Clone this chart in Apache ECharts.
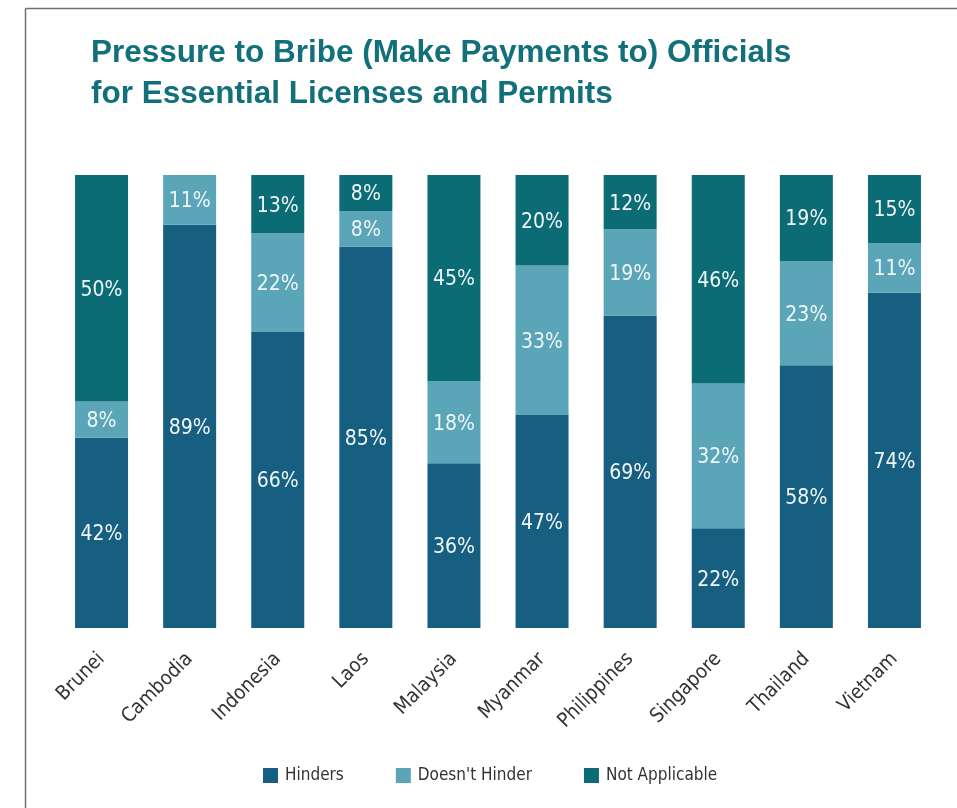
<!DOCTYPE html>
<html>
<head>
<meta charset="utf-8">
<script src="https://cdn.jsdelivr.net/npm/echarts@6/dist/echarts.min.js"></script>
<style>
html,body{margin:0;padding:0;background:#fff;}
#chart{width:957px;height:808px;}
</style>
</head>
<body>
<div id="chart"></div>
<script>
const categories = ['Brunei','Cambodia','Indonesia','Laos','Malaysia','Myanmar','Philippines','Singapore','Thailand','Vietnam'];
const hinders = [42, 89, 66, 85, 36, 47, 69, 22, 58, 74];
const doesntHinder = [8, 11, 22, 8, 18, 33, 19, 32, 23, 11];
const notApplicable = [50, 0, 13, 8, 45, 20, 12, 46, 19, 15];
const seriesNames = ['Hinders', "Doesn't Hinder", 'Not Applicable'];
const colors = ['#175f80', '#5aa5b8', '#0b6c75'];

const raw = [hinders, doesntHinder, notApplicable];
const totals = categories.map((c, i) => hinders[i] + doesntHinder[i] + notApplicable[i]);
const FONT = '"DejaVu Sans Condensed", "Liberation Sans Narrow", "Liberation Sans", Arial, sans-serif';

const chart = echarts.init(document.getElementById('chart'));
chart.setOption({
  animation: false,
  backgroundColor: '#fff',
  title: {
    text: 'Pressure to Bribe (Make Payments to) Officials\nfor Essential Licenses and Permits',
    left: 86, top: 28,
    textStyle: { color: '#12707a', fontSize: 31.5, fontWeight: 'bold', fontFamily: 'Liberation Sans, Arial, sans-serif', lineHeight: 41 }
  },
  graphic: [
    { type: 'line', shape: { x1: 25.5, y1: 8.5, x2: 960, y2: 8.5 }, style: { stroke: '#707070', lineWidth: 1.5 } },
    { type: 'line', shape: { x1: 25.5, y1: 8.5, x2: 25.5, y2: 810 }, style: { stroke: '#707070', lineWidth: 1.5 } }
  ],
  legend: {
    bottom: 19, left: 258,
    itemWidth: 15, itemHeight: 15, itemGap: 52,
    icon: 'rect',
    textStyle: { fontSize: 17, color: '#333', fontFamily: FONT, padding: [0, 0, 0, 2] },
    data: seriesNames
  },
  grid: { left: 57.5, right: 18.5, top: 175, bottom: 180 },
  xAxis: {
    type: 'category', data: categories,
    axisLine: { show: false }, axisTick: { show: false },
    axisLabel: { rotate: 45, fontSize: 20, color: '#333', fontFamily: FONT, margin: 28, interval: 0 }
  },
  yAxis: { type: 'value', min: 0, max: 100, show: false, splitLine: { show: false } },
  series: raw.map((arr, si) => ({
    name: seriesNames[si], type: 'bar', stack: 'total', barWidth: 53,
    itemStyle: { color: colors[si] },
    label: {
      show: true, position: 'inside', color: '#f0f5f7', fontSize: 21, fontFamily: FONT,
      offset: [0, 2],
      formatter: p => arr[p.dataIndex] ? arr[p.dataIndex] + '%' : ''
    },
    data: arr.map((v, i) => v / totals[i] * 100)
  }))
});
</script>
</body>
</html>
